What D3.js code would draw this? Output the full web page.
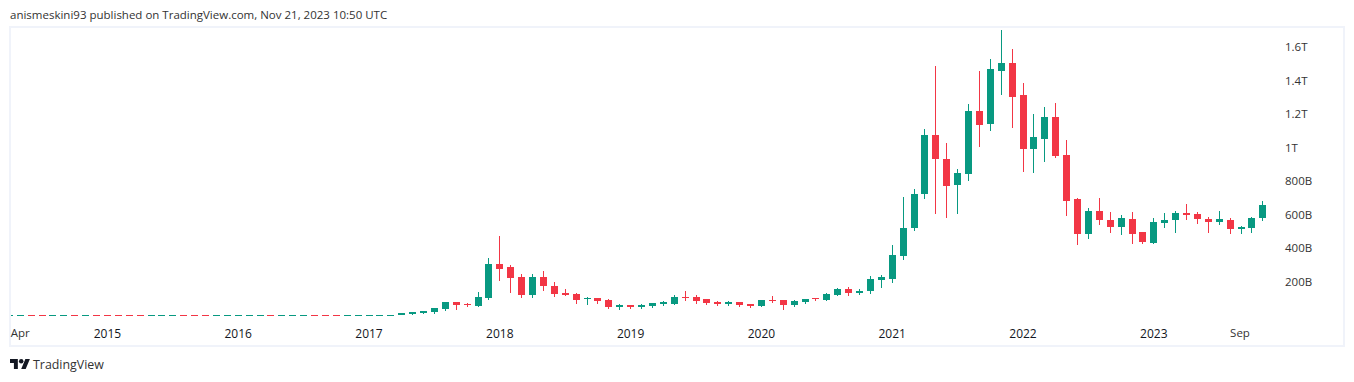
<!DOCTYPE html>
<html>
<head>
<meta charset="utf-8">
<script src="https://d3js.org/d3.v7.min.js"></script>
<style>
html, body { margin: 0; padding: 0; background: #fff; overflow: hidden; }
text { font-family: "Open Sans", sans-serif; }
</style>
</head>
<body>
<script>
var width = 1354;
var height = 382;

// monthly candles, values in billions, Apr 2014 to Nov 2023
var startMonth = new Date(2014, 3, 1);

// Apr 2014 - Jan 2017, the flat part at the bottom, only the colour can be read
var flatColors = ["g","g","r","r","g","g","r","g","r","r","r","r","r","g","g","g","r","r","r","g","g","g","g","g","r","g","g","g","r","r","r","g","g","g"];

var earlyOpens = [2, 2, 3, 6, 12, 18, 36];
var earlyCloses = [2, 3, 12, 18, 24, 42, 78];
var earlyHighs = [2, 3, 12, 24, 30, 48, 84];
var earlyLows = [2, 2, 3, 4, 10, 12, 30];

var opens = [
  78, 66, 60, 107, 310, 287, 227, 119, 227, 179, 137, 131, 96, 102, 90, 48,
  60, 48, 54, 66, 72, 113, 113, 96, 78, 66, 78, 66, 54, 90, 90, 60, 78, 102,
  96, 125, 161, 137, 143, 209, 221, 358, 525, 722, 1075, 937, 776, 842, 1218,
  1140, 1463, 1510, 1319, 991, 1057, 1188, 961, 693, 484, 621, 573, 531, 579,
  496, 436, 555, 567, 609, 603, 579, 561, 573, 519, 525, 579
];
var highs = [
  84, 78, 143, 346, 478, 304, 251, 251, 269, 203, 161, 137, 113, 102, 102, 72,
  66, 72, 72, 90, 125, 149, 125, 102, 90, 90, 84, 72, 90, 119, 96, 96, 96, 107,
  137, 167, 173, 161, 239, 245, 424, 710, 758, 1116, 1492, 1033, 878, 1266, 1463,
  1534, 1707, 1594, 1391, 1206, 1248, 1272, 1051, 704, 645, 704, 621, 603, 621,
  501, 585, 615, 627, 669, 621, 591, 627, 585, 537, 591, 687
];
var lows = [
  36, 54, 54, 96, 209, 137, 107, 107, 149, 113, 119, 72, 66, 72, 42, 36,
  42, 42, 48, 60, 66, 90, 72, 66, 60, 60, 54, 48, 54, 78, 36, 54, 72, 90,
  90, 119, 119, 125, 131, 167, 197, 334, 507, 698, 609, 585, 609, 806, 1009,
  1104, 1319, 1122, 860, 854, 919, 943, 597, 424, 460, 543, 496, 484, 430,
  430, 430, 525, 496, 573, 549, 496, 543, 490, 490, 496, 567
];
var closes = [
  60, 58, 113, 310, 281, 221, 119, 227, 173, 131, 125, 96, 102, 84, 48, 60,
  48, 60, 72, 78, 113, 107, 90, 72, 66, 78, 60, 54, 90, 84, 60, 84, 96, 96,
  131, 161, 137, 149, 215, 227, 364, 525, 728, 1075, 931, 776, 848, 1218, 1134,
  1469, 1510, 1307, 997, 1063, 1188, 955, 687, 484, 621, 567, 531, 585, 490,
  436, 561, 573, 609, 597, 573, 561, 579, 519, 531, 585, 657
];

var priceTicks = [200, 400, 600, 800, 1000, 1200, 1400, 1600];
var priceLabels = ["200B", "400B", "600B", "800B", "1T", "1.2T", "1.4T", "1.6T"];
var timeTicks = ["2014-04", "2015-01", "2016-01", "2017-01", "2018-01", "2019-01", "2020-01", "2021-01", "2022-01", "2023-01", "2023-09"];
var timeLabels = ["Apr", "2015", "2016", "2017", "2018", "2019", "2020", "2021", "2022", "2023", "Sep"];

var green = "#089981";
var red = "#f23645";
var frameColor = "#f0f3fa";

var candles = [];
flatColors.forEach(function(c) {
  candles.push({ o: c == "g" ? 1 : 1.5, h: 1.5, l: 1, c: c == "g" ? 1.5 : 1 });
});
earlyOpens.forEach(function(o, i) {
  candles.push({ o: o, h: earlyHighs[i], l: earlyLows[i], c: earlyCloses[i] });
});
opens.forEach(function(o, i) {
  candles.push({ o: o, h: highs[i], l: lows[i], c: closes[i] });
});

var svg = d3.select("body")
            .append("svg")
            .attr("width", width)
            .attr("height", height)
            .style("display", "block");

// x domain is the month number counted from Apr 2014
var x = d3.scaleLinear()
          .domain([0, 45])
          .range([8.8, 499.3]);

var y = d3.scaleLinear()
          .domain([0, 1600])
          .range([316, 48]);

svg.append("clipPath").attr("id", "plot").append("rect")
   .attr("x", 11).attr("y", 28).attr("width", 1332).attr("height", 317);

// frame
svg.append("rect")
   .attr("x", 10).attr("y", 27)
   .attr("width", 1334).attr("height", 319)
   .attr("fill", "none")
   .attr("stroke", frameColor)
   .attr("stroke-width", 2);

svg.append("text")
   .attr("x", 10).attr("y", 19)
   .attr("font-size", 11.5)
   .attr("fill", "#333")
   .text("anismeskini93 published on TradingView.com, Nov 21, 2023 10:50 UTC");

var marks = svg.append("g").attr("clip-path", "url(#plot)");

var candle = marks.selectAll("g.candle")
  .data(candles)
  .enter()
  .append("g")
  .attr("class", "candle");

candle.append("line")
  .attr("x1", function(d, i) { return Math.round(x(i)) + 0.5; })
  .attr("x2", function(d, i) { return Math.round(x(i)) + 0.5; })
  .attr("y1", function(d) { return Math.round(y(d.h)); })
  .attr("y2", function(d) { return Math.round(y(d.l)); })
  .attr("stroke", function(d) { return d.c >= d.o ? green : red; });

candle.append("rect")
  .attr("x", function(d, i) { return Math.round(x(i)) - 3; })
  .attr("width", 7)
  .attr("y", function(d) { return Math.floor(y(Math.max(d.o, d.c))); })
  .attr("height", function(d) { return Math.max(1, Math.round(Math.abs(y(d.o) - y(d.c)))); })
  .attr("fill", function(d) { return d.c >= d.o ? green : red; });

// price axis
var axisY = d3.axisRight(y)
              .tickValues(priceTicks)
              .tickSize(0)
              .tickPadding(0)
              .tickFormat(function(d, i) { return priceLabels[i]; });

var gy = svg.append("g")
            .attr("transform", "translate(1285,-1)")
            .call(axisY);
gy.select(".domain").remove();
gy.selectAll("text")
  .style("font-family", '"Open Sans", sans-serif')
  .style("font-size", "11.5px")
  .attr("fill", "#333");

// time axis, ticks are month offsets from the start
var timeIndex = timeTicks.map(function(t) {
  var p = t.split("-");
  return (+p[0] - 2014) * 12 + (+p[1] - 4);
});

var axisX = d3.axisBottom(x)
              .tickValues(timeIndex)
              .tickSize(0)
              .tickPadding(0)
              .tickFormat(function(d, i) { return timeLabels[i]; });

var gx = svg.append("g")
            .attr("transform", "translate(0,329)")
            .call(axisX);
gx.select(".domain").remove();
gx.selectAll("text")
  .style("font-family", '"Open Sans", sans-serif')
  .style("font-size", "12px")
  .attr("fill", function(d, i) { return timeLabels[i].length == 3 ? "#333" : "#131722"; });
gx.selectAll("text").filter(function(d) { return d == 0; })
  .attr("text-anchor", "start")
  .attr("x", 1.5)
  .style("font-size", "11.5px");
gx.selectAll("text").filter(function(d) { return d == 113; })
  .attr("x", -1)
  .style("font-size", "11.5px");

// logo
var logo = svg.append("g").attr("transform", "translate(10,356.8) scale(0.56)").attr("fill", "#131722");
logo.append("path").attr("d", "M14 22H7V11H0V4h14v18zM28 22h-8l7.5-18h8L28 22z");
logo.append("circle").attr("cx", 20).attr("cy", 8).attr("r", 4);

svg.append("text")
   .attr("x", 33).attr("y", 369)
   .attr("font-size", 12.4)
   .attr("fill", "#333")
   .text("TradingView");
</script>
</body>
</html>
